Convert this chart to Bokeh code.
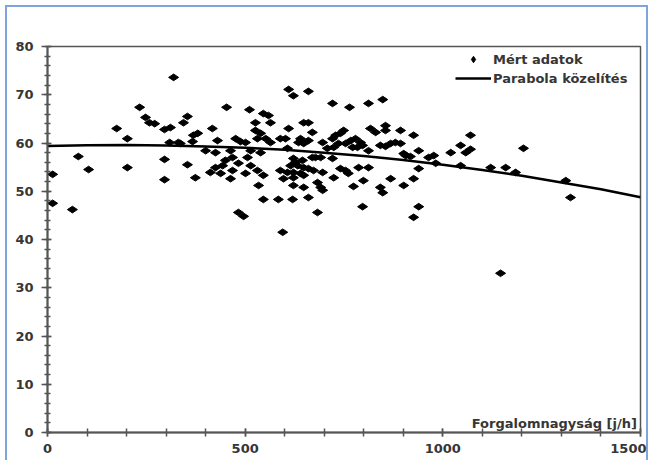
import math
from bokeh.plotting import figure
from bokeh.models import FixedTicker, Label, Legend, LegendItem, Range1d, ColumnDataSource
from bokeh.embed import file_html
from bokeh.resources import INLINE

# Measured data: traffic volume [j/h] and measured value
flow = [13, 13, 63, 78, 104, 175, 202, 202, 233, 248, 258, 271, 319, 296, 311, 309, 331, 344, 354, 296,
        296, 354, 453, 511, 546, 559, 564, 526, 417, 610, 369, 380, 526, 539, 552, 564, 531, 476, 488, 501,
        430, 589, 602, 367, 635, 336, 400, 425, 463, 539, 607, 514, 468, 506, 450, 425, 443, 483, 514, 531,
        412, 438, 468, 501, 546, 374, 463, 589, 607, 615, 627, 597, 622, 534, 622, 546, 584, 620, 483, 496,
        595, 610, 622, 660, 721, 764, 812, 848, 648, 660, 670, 640, 648, 660, 696, 721, 729, 741, 749, 708,
        724, 736, 754, 767, 779, 792, 772, 784, 797, 817, 830, 855, 855, 893, 842, 855, 868, 880, 893, 812,
        901, 622, 645, 670, 678, 691, 721, 633, 648, 660, 673, 696, 622, 640, 648, 741, 754, 761, 787, 812,
        724, 648, 683, 691, 696, 774, 799, 842, 848, 868, 901, 660, 797, 683, 926, 906, 918, 939, 964, 977,
        939, 926, 939, 926, 1020, 1045, 1058, 1070, 1070, 982, 1045, 1121, 1159, 1184, 1204, 1311, 1323, 1146]
measured = [53.5, 47.5, 46.2, 57.2, 54.5, 63.0, 60.9, 54.9, 67.4, 65.3, 64.2, 64.0, 73.6, 62.8, 63.2, 60.1, 60.1, 64.2, 65.5, 56.6,
            52.4, 55.5, 67.4, 66.9, 66.1, 65.7, 64.2, 64.2, 63.0, 63.0, 61.6, 62.0, 62.6, 62.0, 60.9, 60.1, 60.9, 60.9, 60.3, 60.1,
            60.5, 60.9, 60.9, 60.3, 60.1, 59.9, 58.4, 58.0, 58.4, 58.0, 58.9, 58.4, 57.0, 57.0, 56.4, 54.9, 55.3, 55.8, 55.3, 54.3,
            53.9, 53.7, 54.3, 53.7, 53.3, 52.8, 52.6, 54.3, 53.9, 55.3, 56.0, 52.6, 52.8, 51.2, 51.2, 48.3, 48.3, 48.3, 45.6, 44.8,
            41.5, 71.1, 69.8, 70.7, 68.2, 67.4, 68.2, 69.0, 64.2, 64.2, 62.2, 60.9, 59.9, 60.5, 60.1, 60.9, 61.6, 62.0, 62.6, 58.9,
            59.1, 59.9, 59.9, 60.5, 60.9, 60.1, 59.1, 59.1, 59.5, 63.0, 62.2, 63.6, 62.6, 62.6, 59.5, 59.3, 59.9, 60.1, 59.9, 58.4,
            57.8, 56.8, 56.4, 57.0, 57.0, 57.0, 56.8, 55.3, 54.9, 54.7, 54.3, 53.9, 53.9, 53.7, 53.3, 54.7, 54.3, 53.7, 54.9, 54.9,
            52.8, 50.8, 51.8, 50.8, 50.2, 51.0, 52.2, 50.8, 49.7, 52.6, 51.2, 48.7, 46.8, 45.6, 61.6, 57.4, 57.2, 58.4, 57.0, 57.4,
            54.7, 52.6, 46.8, 44.6, 58.0, 59.5, 58.0, 58.7, 61.6, 55.8, 55.3, 54.9, 54.9, 53.9, 58.9, 52.2, 48.7, 33.0]

# Parabola approximation
curve_x = [0, 100, 200, 300, 400, 500, 600, 700, 800, 900, 1000, 1100, 1200, 1300, 1400, 1500]
curve_y = [59.4, 59.55, 59.6, 59.5, 59.3, 59.0, 58.6, 58.0, 57.3, 56.5, 55.5, 54.4, 53.2, 51.8, 50.4, 48.75]

x_ticks = [0, 500, 1000, 1500]
x_minor = list(range(0, 1501, 100))
y_ticks = list(range(0, 81, 10))
y_minor = list(range(0, 81, 2))

FONT = "DejaVu Sans"
GRAY = "#555555"
TXT = "#363636"

p = figure(width=643, height=455, x_range=Range1d(0, 1500), y_range=Range1d(0, 80),
           output_backend="svg", toolbar_location=None,
           min_border_left=40, min_border_right=10, min_border_top=39, min_border_bottom=30)
p.styles = {"margin-left": "5px", "margin-top": "5px",
            "border-left": "2px solid #7ea6dc", "border-top": "2px solid #7ea6dc",
            "border-right": "2px solid #7ea6dc"}

p.xgrid.visible = False
p.ygrid.visible = False
p.outline_line_color = GRAY
p.outline_line_width = 1.5
p.background_fill_color = "white"
p.border_fill_color = "white"

p.xaxis.ticker = FixedTicker(ticks=x_ticks, minor_ticks=x_minor)
p.yaxis.ticker = FixedTicker(ticks=y_ticks, minor_ticks=y_minor)
for ax in (p.xaxis[0], p.yaxis[0]):
    ax.axis_line_color = GRAY
    ax.axis_line_width = 2
    ax.major_tick_line_color = GRAY
    ax.major_tick_line_width = 1.5
    ax.minor_tick_line_color = GRAY
    ax.minor_tick_line_width = 1.5
    ax.major_label_text_font = FONT
    ax.major_label_text_font_style = "bold"
    ax.major_label_text_font_size = "13px"
    ax.major_label_text_color = TXT
p.xaxis.major_tick_in = 4
p.xaxis.major_tick_out = 4
p.xaxis.minor_tick_in = 4
p.xaxis.minor_tick_out = 4
p.xaxis.major_label_standoff = 7
p.yaxis.major_tick_in = 4
p.yaxis.major_tick_out = 6
p.yaxis.minor_tick_in = 3
p.yaxis.minor_tick_out = 3
p.yaxis.major_label_standoff = 8

src = ColumnDataSource(dict(x=flow, y=measured))
r_pts = p.scatter("x", "y", source=src, marker="diamond", size=10, angle=math.pi / 2,
                  fill_color="black", line_color="black")
r_line = p.line(curve_x, curve_y, line_width=2.5, line_color="black")

legend = Legend(items=[LegendItem(label="Mért adatok", renderers=[r_pts]),
                       LegendItem(label="Parabola közelítés", renderers=[r_line])],
                location=(408, 346), border_line_alpha=0, background_fill_alpha=0,
                padding=0, margin=0, glyph_width=36, glyph_height=16, label_height=16,
                spacing=3, label_standoff=2, label_text_font=FONT, label_text_font_style="bold",
                label_text_font_size="13px", label_text_color=TXT)
p.add_layout(legend)

p.add_layout(Label(x=1491, y=1.8, text="Forgalomnagyság [j/h]", text_align="right",
                   text_baseline="alphabetic", text_font=FONT, text_font_style="bold",
                   text_font_size="13px", text_color=TXT))

open("out.html", "w").write(file_html(p, INLINE))
